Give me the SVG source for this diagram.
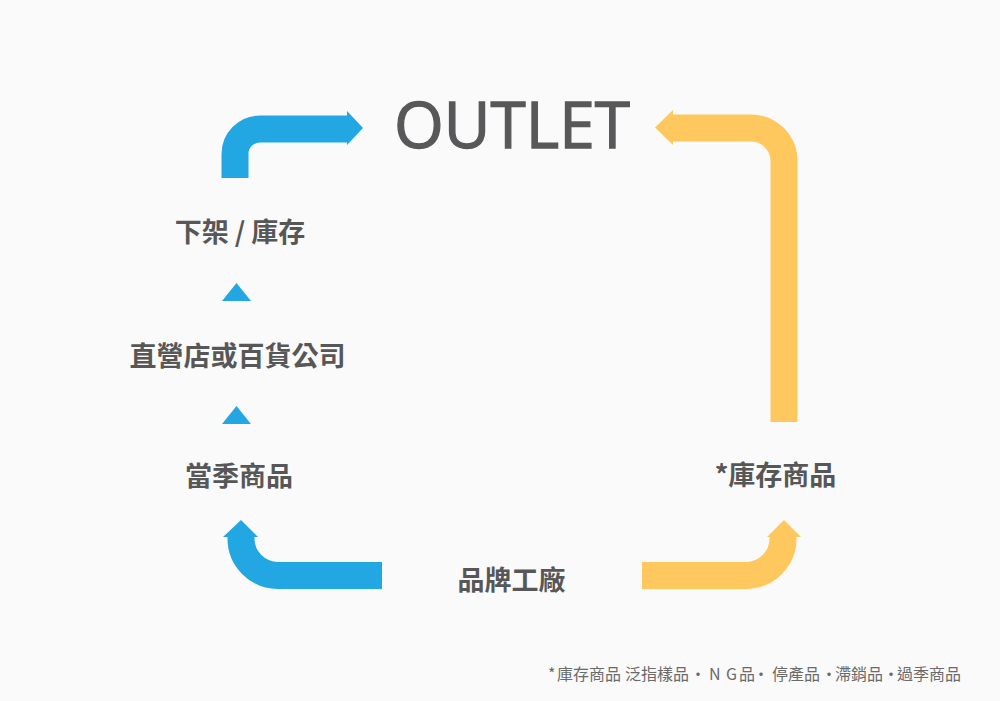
<svg xmlns="http://www.w3.org/2000/svg" width="1000" height="701" viewBox="0 0 1000 701">
<style>
.lbl{font-family:"Noto Sans CJK TC","Noto Sans CJK SC",sans-serif;font-weight:700;font-size:27px;fill:#575757;text-anchor:middle;dominant-baseline:central}
.note{font-family:"Noto Sans CJK TC","Noto Sans CJK SC",sans-serif;font-weight:400;font-size:16px;fill:#6a6a6a;dominant-baseline:central}
.blue{stroke:#22A7E3;fill:none;stroke-width:27}
.yel{stroke:#FFC85E;fill:none;stroke-width:27}
.bh{fill:#22A7E3}
.yh{fill:#FFC85E}
</style>
<rect width="1000" height="701" fill="#fafafa"/>
<g id="connectors">
  <path class="blue" d="M235,178 V154 A25,25 0 0 1 260,129 H348"/>
  <polygon class="bh" points="347,111 363,128 347,145"/>
  <path class="yel" d="M784,422 V161 A33,33 0 0 0 751,128 H672"/>
  <polygon class="yh" points="673,110 655,127.5 673,145"/>
  <path class="blue" d="M382,575.5 H278 A37,37 0 0 1 241,538.5 V536"/>
  <polygon class="bh" points="223,537 241,520 258,537"/>
  <path class="yel" d="M642,575.5 H746 A37,37 0 0 0 783,538.5 V536"/>
  <polygon class="yh" points="767,537 784,520 801,537"/>
  <polygon class="bh" points="222,301 251,301 236.5,283"/>
  <polygon class="bh" points="222,424 251,424 236.5,406"/>
</g>
<g id="outlet"><text x="394" y="148" font-family="'Open Sans',sans-serif" font-size="64" fill="#58585a" stroke="#58585a" stroke-width="1.3" textLength="236" lengthAdjust="spacingAndGlyphs">OUTLET</text></g>
<g id="offshelf"><text class="lbl" x="240" y="230">下架 / 庫存</text></g>
<g id="store"><text class="lbl" x="237.5" y="354">直營店或百貨公司</text></g>
<g id="season"><text class="lbl" x="239" y="474">當季商品</text></g>
<g id="stock"><text class="lbl" x="775.5" y="473">*庫存商品</text></g>
<g id="factory"><text class="lbl" x="511.5" y="578">品牌工廠</text></g>
<g id="footnote"><text class="note" y="673"><tspan x="548">*</tspan><tspan x="557">庫存商品</tspan><tspan x="625">泛指樣品</tspan><tspan x="690">·</tspan><tspan x="709">N</tspan><tspan x="726">G</tspan><tspan x="739">品</tspan><tspan x="753">·</tspan><tspan x="772">停產品</tspan><tspan x="821">·</tspan><tspan x="835">滯銷品</tspan><tspan x="883">·</tspan><tspan x="897">過季商品</tspan></text></g>
</svg>
